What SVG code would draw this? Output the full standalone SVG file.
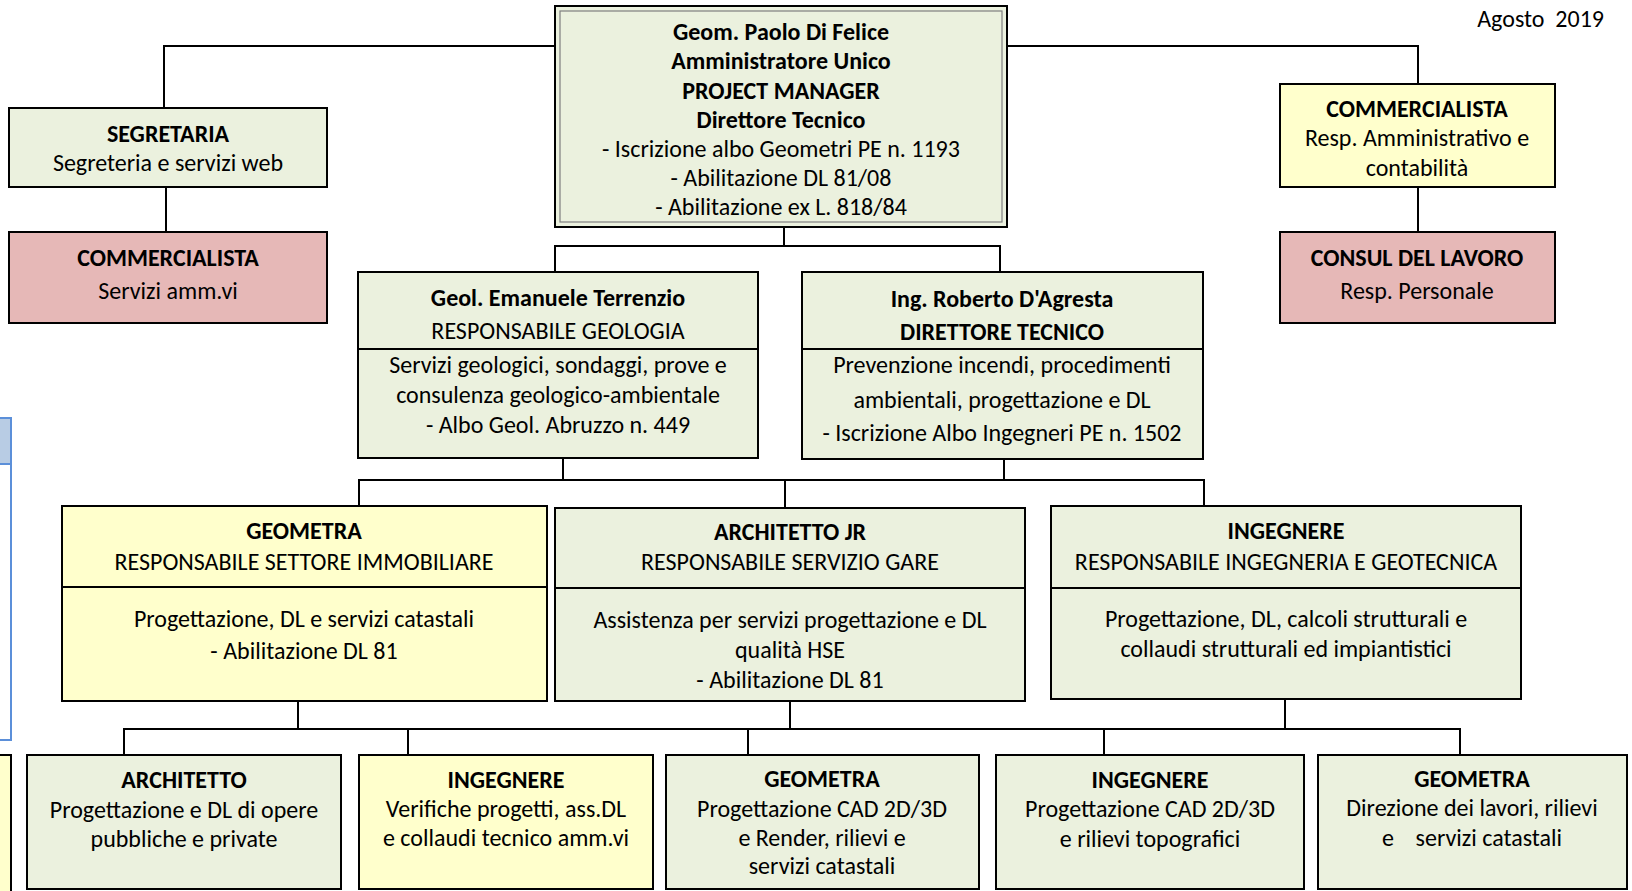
<svg xmlns="http://www.w3.org/2000/svg" width="1632" height="891" viewBox="0 0 1632 891">
<defs>
<style>
text{font-family:Carlito,Lato,"Open Sans","Liberation Sans",sans-serif;font-size:24px;fill:#000;text-anchor:middle}
.b{font-weight:bold}
.box{stroke:#000;stroke-width:2}
.g{fill:#ebf1de}
.y{fill:#ffffcc}
.r{fill:#e6b8b7}
.div{stroke:#000;stroke-width:2}
.con{fill:none;stroke:#000;stroke-width:2}
</style>
</defs>
<rect width="1632" height="891" fill="#fff"/>
<text x="1604" y="27" style="text-anchor:end" xml:space="preserve">Agosto  2019</text>

<g id="partial-left">
<rect x="-5" y="418" width="16" height="322" fill="#fff" stroke="#5b8fd9" stroke-width="2"/>
<rect x="-5" y="418" width="16" height="46" fill="#b8cce4" stroke="#5b8fd9" stroke-width="2"/>
<rect x="-5" y="755" width="16" height="150" class="box y"/>
</g>

<g id="connectors" class="con">
<path d="M555 46 H164 V108"/>
<path d="M1007 46 H1418 V84"/>
<path d="M166 187 V232"/>
<path d="M1418 187 V232"/>
<path d="M784 227 V246"/>
<path d="M555 272 V246 H1000 V272"/>
<path d="M563 458 V480"/>
<path d="M1004 459 V480"/>
<path d="M359 506 V480 H1204 V506"/>
<path d="M785 480 V508"/>
<path d="M298 701 V729"/>
<path d="M790 701 V729"/>
<path d="M1285 699 V729"/>
<path d="M124 755 V729 H1460 V755"/>
<path d="M408 729 V755"/>
<path d="M748 729 V755"/>
<path d="M1104 729 V755"/>
</g>

<g id="top">
<rect x="555" y="6" width="452" height="221" class="box g"/>
<rect x="560" y="11" width="442" height="211" fill="none" stroke="#7f7f7f" stroke-width="1.2"/>
<text x="781" y="40" class="b">Geom. Paolo Di Felice</text>
<text x="781" y="69" class="b">Amministratore Unico</text>
<text x="781" y="99" class="b">PROJECT MANAGER</text>
<text x="781" y="128" class="b">Direttore Tecnico</text>
<text x="781" y="157">- Iscrizione albo Geometri PE n. 1193</text>
<text x="781" y="186">- Abilitazione DL 81/08</text>
<text x="781" y="215">- Abilitazione ex L. 818/84</text>
</g>

<g id="segretaria">
<rect x="9" y="108" width="318" height="79" class="box g"/>
<text x="168" y="142" class="b">SEGRETARIA</text>
<text x="168" y="171">Segreteria e servizi web</text>
</g>

<g id="commercialista-sx">
<rect x="9" y="232" width="318" height="91" class="box r"/>
<text x="168" y="266" class="b">COMMERCIALISTA</text>
<text x="168" y="299">Servizi amm.vi</text>
</g>

<g id="commercialista-dx">
<rect x="1280" y="84" width="275" height="103" class="box y"/>
<text x="1417" y="117" class="b">COMMERCIALISTA</text>
<text x="1417" y="146">Resp. Amministrativo e</text>
<text x="1417" y="176">contabilità</text>
</g>

<g id="consulente">
<rect x="1280" y="232" width="275" height="91" class="box r"/>
<text x="1417" y="266" class="b">CONSUL DEL LAVORO</text>
<text x="1417" y="299">Resp. Personale</text>
</g>

<g id="geologo">
<rect x="358" y="272" width="400" height="186" class="box g"/>
<line x1="358" y1="349" x2="758" y2="349" class="div"/>
<text x="558" y="306" class="b">Geol. Emanuele Terrenzio</text>
<text x="558" y="339">RESPONSABILE GEOLOGIA</text>
<text x="558" y="373">Servizi geologici, sondaggi, prove e</text>
<text x="558" y="403">consulenza geologico-ambientale</text>
<text x="558" y="433">- Albo Geol. Abruzzo n. 449</text>
</g>

<g id="ingegnere-dt">
<rect x="802" y="272" width="401" height="187" class="box g"/>
<line x1="802" y1="349" x2="1203" y2="349" class="div"/>
<text x="1002" y="307" class="b">Ing. Roberto D'Agresta</text>
<text x="1002" y="340" class="b">DIRETTORE TECNICO</text>
<text x="1002" y="373">Prevenzione incendi, procedimenti</text>
<text x="1002" y="408">ambientali, progettazione e DL</text>
<text x="1002" y="441">- Iscrizione Albo Ingegneri PE n. 1502</text>
</g>

<g id="geometra-resp">
<rect x="62" y="506" width="485" height="195" class="box y"/>
<line x1="62" y1="587" x2="547" y2="587" class="div"/>
<text x="304" y="539" class="b">GEOMETRA</text>
<text x="304" y="570">RESPONSABILE SETTORE IMMOBILIARE</text>
<text x="304" y="627">Progettazione, DL e servizi catastali</text>
<text x="304" y="659">- Abilitazione DL 81</text>
</g>

<g id="architetto-jr">
<rect x="555" y="508" width="470" height="193" class="box g"/>
<line x1="555" y1="588" x2="1025" y2="588" class="div"/>
<text x="790" y="540" class="b">ARCHITETTO JR</text>
<text x="790" y="570">RESPONSABILE SERVIZIO GARE</text>
<text x="790" y="628">Assistenza per servizi progettazione e DL</text>
<text x="790" y="658">qualità HSE</text>
<text x="790" y="688">- Abilitazione DL 81</text>
</g>

<g id="ingegnere-resp">
<rect x="1051" y="506" width="470" height="193" class="box g"/>
<line x1="1051" y1="588" x2="1521" y2="588" class="div"/>
<text x="1286" y="539" class="b">INGEGNERE</text>
<text x="1286" y="570">RESPONSABILE INGEGNERIA E GEOTECNICA</text>
<text x="1286" y="627">Progettazione, DL, calcoli strutturali e</text>
<text x="1286" y="657">collaudi strutturali ed impiantistici</text>
</g>

<g id="architetto">
<rect x="27" y="755" width="314" height="134" class="box g"/>
<text x="184" y="788" class="b">ARCHITETTO</text>
<text x="184" y="818">Progettazione e DL di opere</text>
<text x="184" y="847">pubbliche e private</text>
</g>

<g id="ingegnere-verifiche">
<rect x="359" y="755" width="294" height="134" class="box y"/>
<text x="506" y="788" class="b">INGEGNERE</text>
<text x="506" y="817">Verifiche progetti, ass.DL</text>
<text x="506" y="846">e collaudi tecnico amm.vi</text>
</g>

<g id="geometra-cad">
<rect x="666" y="755" width="313" height="134" class="box g"/>
<text x="822" y="787" class="b">GEOMETRA</text>
<text x="822" y="817">Progettazione CAD 2D/3D</text>
<text x="822" y="846">e Render, rilievi e</text>
<text x="822" y="874">servizi catastali</text>
</g>

<g id="ingegnere-cad">
<rect x="996" y="755" width="308" height="134" class="box g"/>
<text x="1150" y="788" class="b">INGEGNERE</text>
<text x="1150" y="817">Progettazione CAD 2D/3D</text>
<text x="1150" y="847">e rilievi topografici</text>
</g>

<g id="geometra-dl">
<rect x="1318" y="755" width="309" height="134" class="box g"/>
<text x="1472" y="787" class="b">GEOMETRA</text>
<text x="1472" y="816">Direzione dei lavori, rilievi</text>
<text x="1472" y="846" xml:space="preserve">e    servizi catastali</text>
</g>
</svg>
